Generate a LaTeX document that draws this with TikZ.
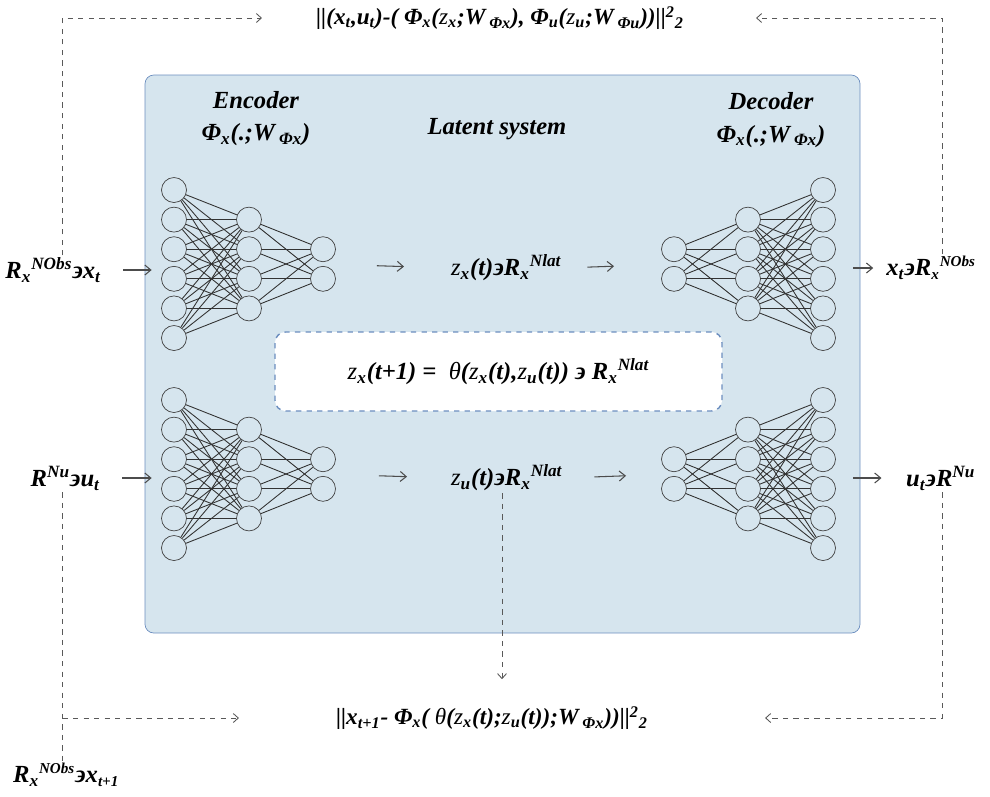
\documentclass[tikz,border=0pt]{standalone}
\usepackage{fontspec}
\setmainfont{Liberation Serif}[
    BoldFont={Liberation Serif Bold},
    ItalicFont={Liberation Serif Italic},
    BoldItalicFont={Liberation Serif Bold Italic}]
\usepackage{xcolor}
\usepackage{tikz}
\usetikzlibrary{positioning, arrows.meta, calc}

\definecolor{boxfill}{HTML}{D6E5EE}
\definecolor{boxline}{HTML}{6C8EBF}

% thin z and theta as in the picture
\newcommand{\zv}{\textmd{z}}
\newcommand{\thv}{\textmd{θ}}
% small scripts
\newcommand{\up}[1]{\textsuperscript{\fontsize{8.6}{9}\selectfont #1}}
\newcommand{\dn}[1]{\textsubscript{\fontsize{8.6}{9}\selectfont #1}}

% one fully connected net: name, x of the 6-layer, y of its top row, direction
\newcommand{\nnet}[4]{%
    \foreach \i in {1,...,6} \node[neuron] (#1-a\i) at ({#2},{#3-(\i-1)*0.592}) {};
    \foreach \j in {1,...,4} \node[neuron] (#1-b\j) at ({#2+#4*1.5},{#3-\j*0.592}) {};
    \foreach \k in {1,2} \node[neuron] (#1-c\k) at ({#2+#4*2.98},{#3-(\k+1)*0.592}) {};
    \foreach \i in {1,...,6} \foreach \j in {1,...,4} \draw[link] (#1-a\i) -- (#1-b\j);
    \foreach \j in {1,...,4} \foreach \k in {1,2} \draw[link] (#1-b\j) -- (#1-c\k);
    \coordinate (#1-out) at ($(#1-c1)!0.5!(#1-c2)$);
}

\begin{document}
\begin{tikzpicture}[
    font=\bfseries\itshape\fontsize{14}{18.5}\selectfont,
    % Define the style for the big box
    system/.style={
        rectangle,
        draw=boxline,
        fill=boxfill,
        rounded corners=5pt,
        minimum width=14.3cm,
        minimum height=11.16cm
    },
    % Define the style for the transition box
    transition/.style={
        rectangle,
        draw=boxline,
        thick,
        dashed,
        fill=white,
        rounded corners=6pt,
        minimum width=8.94cm,
        minimum height=1.58cm
    },
    neuron/.style={
        circle,
        draw=black!75,
        minimum size=0.5cm,
        inner sep=0pt
    },
    link/.style={
        black!80,
        line width=0.5pt
    },
    label/.style={
        inner sep=1pt,
        align=center
    },
    formula/.style={
        label,
        font=\bfseries\itshape\fontsize{13.2}{16}\selectfont
    },
    % Define style for arrows
    arrow/.style={
        -{Straight Barb[length=1.2mm,width=2mm]},
        black!70,
        line width=0.6pt
    },
    loss/.style={
        -{Straight Barb[length=1mm,width=1.8mm]},
        black!65,
        dashed,
        line width=0.5pt
    }
]
\useasboundingbox (0,0) rectangle (19.8,-15.92);

% 1. Latent system box
\node (system) [system] at (10.05,-7.08) {};
\node (enclab) [label] at (5.12,-2.37) {Encoder\\Φ\textsubscript{x}(.;W\,\textsubscript{Φx})};
\node (declab) [label] at (15.42,-2.4) {Decoder\\Φ\textsubscript{x}(.;W\,\textsubscript{Φx})};
\node (latlab) [label] at (9.94,-2.58) {Latent system};

% 2. Networks
\nnet{encx}{3.48}{-3.8}{1}
\nnet{encu}{3.48}{-8.0}{1}
\nnet{decx}{16.46}{-3.8}{-1}
\nnet{decu}{16.46}{-8.0}{-1}

% 3. Latent states
\node (zx) [label, anchor=west] at (8.98,-5.36) {\zv\textsubscript{x}(t)϶R\textsubscript{x}\textsuperscript{Nlat}};
\node (zu) [label, anchor=west] at (8.98,-9.56) {\zv\textsubscript{u}(t)϶R\textsubscript{x}\textsuperscript{Nlat}};
\node (trans) [transition] at (9.97,-7.43) {\zv\textsubscript{x}(t+1) =\ \ \thv(\zv\textsubscript{x}(t),\zv\textsubscript{u}(t)) ϶ R\textsubscript{x}\textsuperscript{Nlat}};

% 4. Inputs and outputs
\node (xin) [label, anchor=east] at (2.06,-5.4) {R\textsubscript{x}\textsuperscript{NObs}϶x\textsubscript{t}};
\node (uin) [label, anchor=east] at (2.04,-9.56) {R\textsuperscript{Nu}϶u\textsubscript{t}};
\node (xout) [label, anchor=east] at (19.56,-5.36) {x\textsubscript{t}϶R\dn{x}\up{NObs}};
\node (uout) [label, anchor=west] at (18.08,-9.56) {u\textsubscript{t}϶R\textsuperscript{Nu}};
\node (xnext) [label, anchor=west] at (0.22,-15.5) {R\textsubscript{x}\up{NObs}϶x\dn{t+1}};

% 5. Losses
\node (rec) [formula] at (10.0,-0.36) {||(x\textsubscript{t},u\textsubscript{t})-( Φ\textsubscript{x}(\zv\textsubscript{x};W\,\textsubscript{Φx}), Φ\textsubscript{u}(\zv\textsubscript{u};W\,\textsubscript{Φu}))||\textsuperscript{2}\textsubscript{2}};
\node (pred) [formula] at (9.84,-14.36) {||x\textsubscript{t+1}- Φ\textsubscript{x}( \thv(\zv\textsubscript{x}(t);\zv\textsubscript{u}(t));W\,\textsubscript{Φx}))||\textsuperscript{2}\textsubscript{2}};

% Draw arrows to show the flow
\draw [arrow, shorten <=0.4cm, shorten >=-0.14cm] (xin.east) -- (xin.east -| system.west);
\draw [arrow, shorten <=0.4cm, shorten >=-0.14cm] (uin.east) -- (uin.east -| system.west);
\draw [arrow, shorten <=-0.14cm, shorten >=0.22cm] (xout.west -| system.east) -- (xout.west);
\draw [arrow, shorten <=-0.14cm, shorten >=0.45cm] (uout.west -| system.east) -- (uout.west);
\draw [arrow, shorten <=1.08cm, shorten >=0.9cm] (encx-out) -- (zx.west);
\draw [arrow, shorten <=1.12cm, shorten >=0.84cm] (encu-out) -- (zu.west);
\draw [arrow, shorten <=0.48cm, shorten >=1.2cm] (zx.east) -- (decx-out);
\draw [arrow, shorten <=0.6cm, shorten >=0.96cm] (zu.east) -- (decu-out);

% Dashed connectors to the losses
\coordinate (lcol) at (1.25,0);
\coordinate (rcol) at (18.84,0);
\draw [loss, shorten >=1.04cm] (lcol |- xin.north) |- (rec.west);
\draw [loss, shorten >=1.4cm] (rcol |- xout.north) |- (rec.east);
\draw [loss, -] (lcol |- uin.south) -- (lcol |- xnext.north);
\draw [loss, shorten >=1.9cm] (lcol |- pred.west) -- (pred.west);
\draw [loss, shorten >=2.3cm] (rcol |- uout.south) |- (pred.east);
\draw [loss, shorten >=0.5cm] (10.04,0 |- zu.south) -- (10.04,0 |- pred.north);

\end{tikzpicture}
\end{document}
